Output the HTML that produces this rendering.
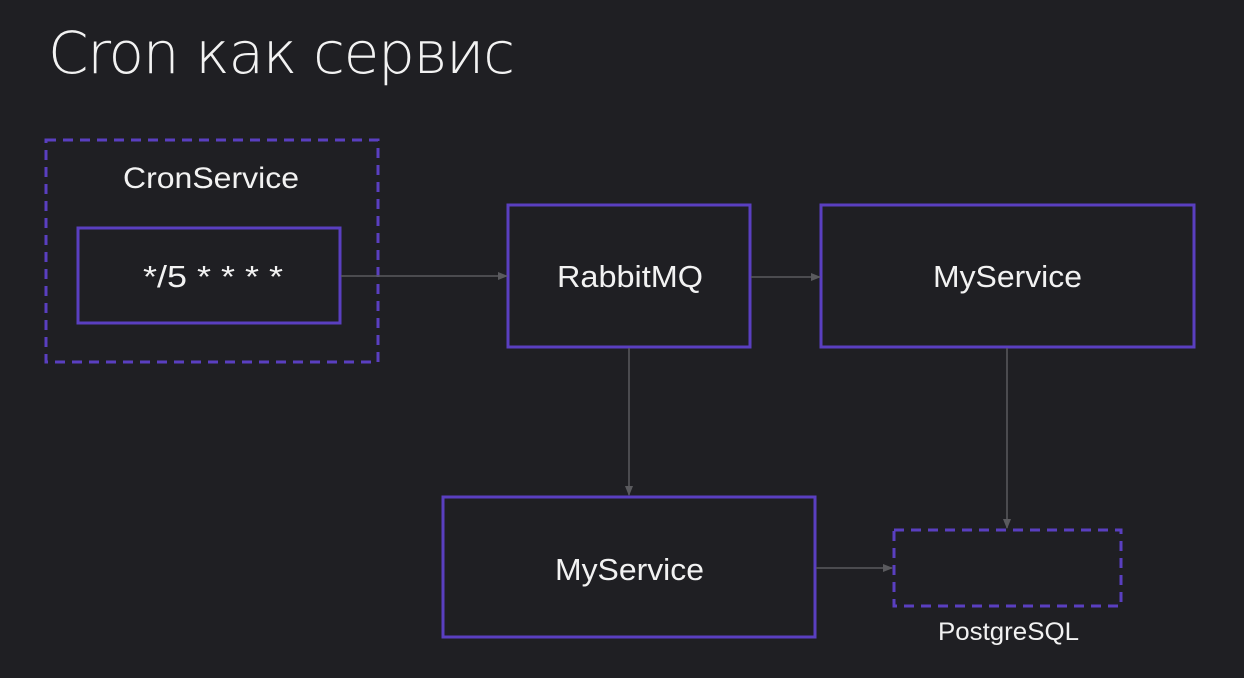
<!DOCTYPE html>
<html><head><meta charset="utf-8"><style>
html,body{margin:0;padding:0;background:#1f1f23;}
svg{display:block}
text{font-family:"Liberation Sans","DejaVu Sans",sans-serif;fill:#f2f2f2}
</style></head><body>
<svg width="1244" height="678" viewBox="0 0 1244 678" xmlns="http://www.w3.org/2000/svg">
<defs><marker id="a" markerWidth="10" markerHeight="10" refX="9" refY="5" orient="auto" markerUnits="userSpaceOnUse"><path d="M0,1 L10,5 L0,9 Z" fill="#5a5a5e"/></marker></defs>
<rect width="1244" height="678" fill="#1f1f23"/>
<text x="48" y="73" font-size="58" textLength="467" style="font-family:'DejaVu Sans','Liberation Sans',sans-serif;font-weight:200">Cron как сервис</text>
<g fill="none" stroke="#5a3fc0" stroke-width="3">
<rect x="46" y="140" width="332" height="222" stroke-dasharray="10,7"/>
<rect x="78" y="228" width="262" height="95"/>
<rect x="508" y="205" width="242" height="142"/>
<rect x="821" y="205" width="373" height="142"/>
<rect x="443" y="497" width="372" height="140"/>
<rect x="894" y="530" width="227" height="76" stroke-dasharray="10,7"/>
</g>
<g stroke="#5a5a5e" stroke-width="1.5" fill="none" marker-end="url(#a)">
<line x1="341" y1="276" x2="507" y2="276"/>
<line x1="751" y1="277" x2="820" y2="277"/>
<line x1="629" y1="348" x2="629" y2="495"/>
<line x1="1007" y1="348" x2="1007" y2="528"/>
<line x1="816" y1="568" x2="892" y2="568"/>
</g>
<text x="123" y="188" font-size="30" textLength="176" lengthAdjust="spacingAndGlyphs">CronService</text>
<text x="143" y="287" font-size="31" textLength="140" lengthAdjust="spacingAndGlyphs">*/5 * * * *</text>
<text x="557" y="287" font-size="31" textLength="146" lengthAdjust="spacingAndGlyphs">RabbitMQ</text>
<text x="933" y="287" font-size="31" textLength="149" lengthAdjust="spacingAndGlyphs">MyService</text>
<text x="555" y="580" font-size="31" textLength="149" lengthAdjust="spacingAndGlyphs">MyService</text>
<text x="938" y="640" font-size="25" textLength="141" lengthAdjust="spacingAndGlyphs">PostgreSQL</text>
</svg>
</body></html>
